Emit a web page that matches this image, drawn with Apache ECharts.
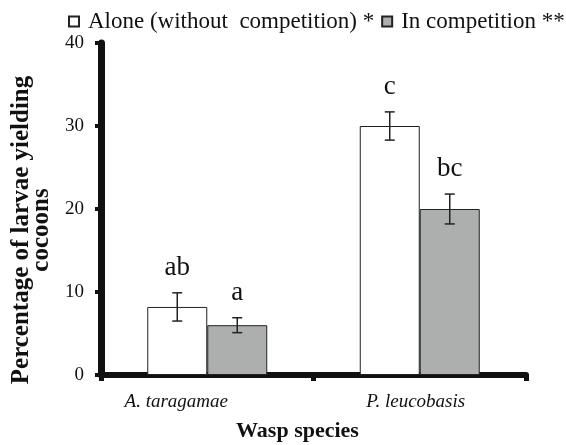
<!DOCTYPE html>
<html>
<head>
<meta charset="utf-8">
<script src="https://cdn.jsdelivr.net/npm/echarts@6/dist/echarts.min.js"></script>
<style>
  html, body { margin: 0; padding: 0; background: #fff; }
  #chart { width: 566px; height: 445px; }
</style>
</head>
<body>
<div id="chart"></div>
<script>
// data
const species = ['A. taragamae', 'P. leucobasis']
const aloneValues = [8.2, 30.0]
const aloneErrors = [1.7, 1.7]
const competitionValues = [6.0, 20.0]
const competitionErrors = [0.9, 1.8]
const aloneLetters = ['ab', 'c']
const competitionLetters = ['a', 'bc']
const yTicks = [0, 10, 20, 30, 40]

const FONT = "'Liberation Serif', 'Times New Roman', serif"
const BAR_W = 60

const chart = echarts.init(document.getElementById('chart'))

// error bar + letter drawn over a bar, shifted by half a bar width
const errorSeries = (values, errors, letters, shift) => ({
  type: 'custom',
  z: 5,
  data: values.map((v, i) => [i, v, errors[i]]),
  encode: { x: 0, y: 1 },
  renderItem: (params, api) => {
    const i = api.value(0)
    const v = api.value(1)
    const e = api.value(2)
    const top = api.coord([i, v + e])
    const bottom = api.coord([i, v - e])
    const x = top[0] + shift
    const cap = 5
    const line = { stroke: '#222', lineWidth: 1.5 }
    return {
      type: 'group',
      children: [
        { type: 'line', shape: { x1: x, y1: top[1], x2: x, y2: bottom[1] }, style: line },
        { type: 'line', shape: { x1: x - cap, y1: top[1], x2: x + cap, y2: top[1] }, style: line },
        { type: 'line', shape: { x1: x - cap, y1: bottom[1], x2: x + cap, y2: bottom[1] }, style: line },
        {
          type: 'text',
          style: {
            x: x, y: top[1] - 25,
            text: letters[params.dataIndex],
            fill: '#111', font: '27px ' + FONT,
            textAlign: 'center', textVerticalAlign: 'middle'
          }
        }
      ]
    }
  }
})

const option = {
  animation: false,
  textStyle: { fontFamily: FONT },
  legend: {
    data: ['Alone (without  competition) *', 'In competition **'],
    left: 63,
    top: 5,
    width: 540,
    icon: 'rect',
    itemWidth: 10,
    itemHeight: 10,
    itemGap: 7,
    textStyle: { fontFamily: FONT, fontSize: 23, color: '#111', padding: [0, 0, 0, 4] }
  },
  grid: { left: 101, right: 40, top: 43, bottom: 70, containLabel: false, outerBoundsMode: 'none' },
  xAxis: {
    type: 'category',
    data: species,
    name: 'Wasp species',
    nameLocation: 'middle',
    nameGap: 45,
    nameTextStyle: { fontFamily: FONT, fontSize: 22, fontWeight: 'bold', color: '#111', padding: [0, 32, 0, 0] },
    axisLine: { lineStyle: { color: '#111', width: 6 } },
    axisTick: { show: true, length: 6, lineStyle: { color: '#111', width: 5 } },
    axisLabel: {
      margin: 17,
      formatter: (v, i) => i === 0 ? '{a|' + v + '}' : '{b|' + v + '}',
      rich: {
        a: { fontFamily: FONT, fontSize: 19, fontStyle: 'italic', color: '#111', padding: [0, 62, 0, 0] },
        b: { fontFamily: FONT, fontSize: 19, fontStyle: 'italic', color: '#111', padding: [0, 8, 0, 0] }
      }
    }
  },
  yAxis: {
    type: 'value',
    min: yTicks[0],
    max: yTicks[yTicks.length - 1],
    interval: yTicks[1] - yTicks[0],
    name: 'Percentage of larvae yielding\ncocoons',
    nameLocation: 'middle',
    nameGap: 47,
    nameRotate: 90,
    nameTextStyle: {
      fontFamily: FONT, fontSize: 25, fontWeight: 'bold', color: '#111',
      lineHeight: 20, align: 'center', padding: [0, 42, 0, 0]
    },
    axisLine: { show: true, lineStyle: { color: '#111', width: 7 } },
    axisTick: { show: true, length: 6, lineStyle: { color: '#111', width: 4 } },
    axisLabel: { fontFamily: FONT, fontSize: 19, color: '#111', margin: 17 },
    splitLine: { show: false }
  },
  series: [
    {
      name: 'Alone (without  competition) *',
      type: 'bar',
      data: aloneValues,
      barWidth: BAR_W,
      barGap: '0%',
      itemStyle: { color: '#ffffff', borderColor: '#222', borderWidth: 1 }
    },
    {
      name: 'In competition **',
      type: 'bar',
      data: competitionValues,
      barWidth: BAR_W,
      barGap: '0%',
      itemStyle: { color: '#adafae', borderColor: '#222', borderWidth: 1 }
    },
    errorSeries(aloneValues, aloneErrors, aloneLetters, -BAR_W / 2),
    errorSeries(competitionValues, competitionErrors, competitionLetters, BAR_W / 2)
  ]
}

chart.setOption(option)
window.addEventListener('resize', () => chart.resize())
</script>
</body>
</html>
